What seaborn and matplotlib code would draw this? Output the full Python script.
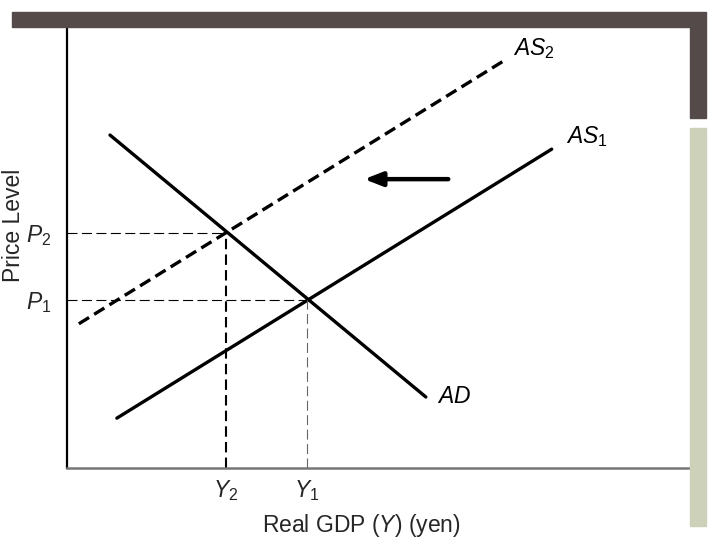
import matplotlib
matplotlib.use("Agg")
import matplotlib.pyplot as plt
from matplotlib.patches import Rectangle
import seaborn as sns
import pandas as pd

# curve end points (data units, 0-10 on both axes)
ad_x = [0.69, 5.76]
ad_y = [7.55, 1.61]
as1_x = [0.80, 7.78]
as1_y = [1.13, 7.23]
as2_x = [0.19, 7.03]
as2_y = [3.27, 9.25]

# equilibria: (Y1, P1) and (Y2, P2)
eq_names = ["1", "2"]
eq_y_vals = [3.85, 2.55]
eq_p_vals = [3.81, 5.33]

# shift arrow (AS moves left)
arrow_from = (6.12, 6.55)
arrow_to = (4.77, 6.55)

sns.set_theme(style="white")
plt.rcParams["font.family"] = ["Liberation Sans", "DejaVu Sans"]
plt.rcParams["mathtext.fontset"] = "custom"
plt.rcParams["mathtext.rm"] = "Liberation Sans"
plt.rcParams["mathtext.it"] = "Liberation Sans:italic"

FS = 16.5

fig = plt.figure(figsize=(7.2, 5.4), dpi=100)
ax = fig.add_axes([67 / 720, 72 / 540, 623 / 720, 441 / 540])

# slide decoration bars
fig.patches.append(Rectangle((12 / 720, 1 - 27 / 540), 694 / 720, 15 / 540,
                             transform=fig.transFigure, color="#544a4a", zorder=0))
fig.patches.append(Rectangle((690 / 720, 1 - 118 / 540), 16 / 720, 91 / 540,
                             transform=fig.transFigure, color="#544a4a", zorder=0))
fig.patches.append(Rectangle((690 / 720, 1 - 526 / 540), 16 / 720, 398 / 540,
                             transform=fig.transFigure, color="#cdd1b9", zorder=0))

curves = pd.DataFrame({
    "x": ad_x + as1_x + as2_x,
    "y": ad_y + as1_y + as2_y,
    "curve": ["AD"] * 2 + ["AS1"] * 2 + ["AS2"] * 2,
})

sns.lineplot(data=curves[curves.curve == "AD"], x="x", y="y", ax=ax,
             color="black", linewidth=2.4)
sns.lineplot(data=curves[curves.curve == "AS1"], x="x", y="y", ax=ax,
             color="black", linewidth=2.4)
sns.lineplot(data=curves[curves.curve == "AS2"], x="x", y="y", ax=ax,
             color="black", linewidth=2.4, linestyle=(0, (3.6, 1.8)))

# guide lines to the axes
y1, y2 = eq_y_vals
p1, p2 = eq_p_vals
ax.plot([0, y1], [p1, p1], color="black", lw=0.8, ls=(0, (9, 4)))
ax.plot([0, y2], [p2, p2], color="black", lw=0.8, ls=(0, (9, 4)))
ax.plot([y2, y2], [0, p2], color="black", lw=1.5, ls=(0, (5, 2.5)))
ax.plot([y1, y1], [0, p1], color="#666666", lw=0.8, ls=(0, (9, 4)))

ax.annotate("", xy=arrow_to, xytext=arrow_from,
            arrowprops=dict(arrowstyle="-|>,head_length=0.9,head_width=0.35",
                            color="black", lw=3.2, shrinkA=0, shrinkB=0))

# curve labels
lbl = dict(fontsize=FS, color="black", va="center", ha="left")
ax.annotate(r"$AD$", (ad_x[1], ad_y[1]), xytext=(8, 0),
            textcoords="offset points", **lbl)
ax.annotate(r"$AS_1$", (as1_x[1], as1_y[1]), xytext=(10, 9),
            textcoords="offset points", **lbl)
ax.annotate(r"$AS_2$", (as2_x[1], as2_y[1]), xytext=(6, 8),
            textcoords="offset points", **lbl)

ax.set_xlim(0, 10)
ax.set_ylim(0, 10)
ax.set_xticks([y2, y1])
ax.set_xticklabels([r"$Y_2$", r"$Y_1$"], fontsize=FS)
ax.set_yticks([p1, p2])
ax.set_yticklabels([r"$P_1$", r"$P_2$"], fontsize=FS)
ax.tick_params(axis="both", length=0)
ax.tick_params(axis="x", pad=7)
ax.tick_params(axis="y", pad=11)

ax.set_xlabel(r"Real GDP ($Y$) (yen)", fontsize=FS)
ax.set_ylabel("Price Level", fontsize=FS)
ax.xaxis.set_label_coords(0.473, -0.100)
ax.yaxis.set_label_coords(-0.068, 0.55)

for side in ["top", "right"]:
    ax.spines[side].set_visible(False)
ax.spines["left"].set_color("black")
ax.spines["left"].set_linewidth(1.6)
ax.spines["bottom"].set_color("#777777")
ax.spines["bottom"].set_linewidth(1.8)

fig.savefig("out.png", dpi=100)
